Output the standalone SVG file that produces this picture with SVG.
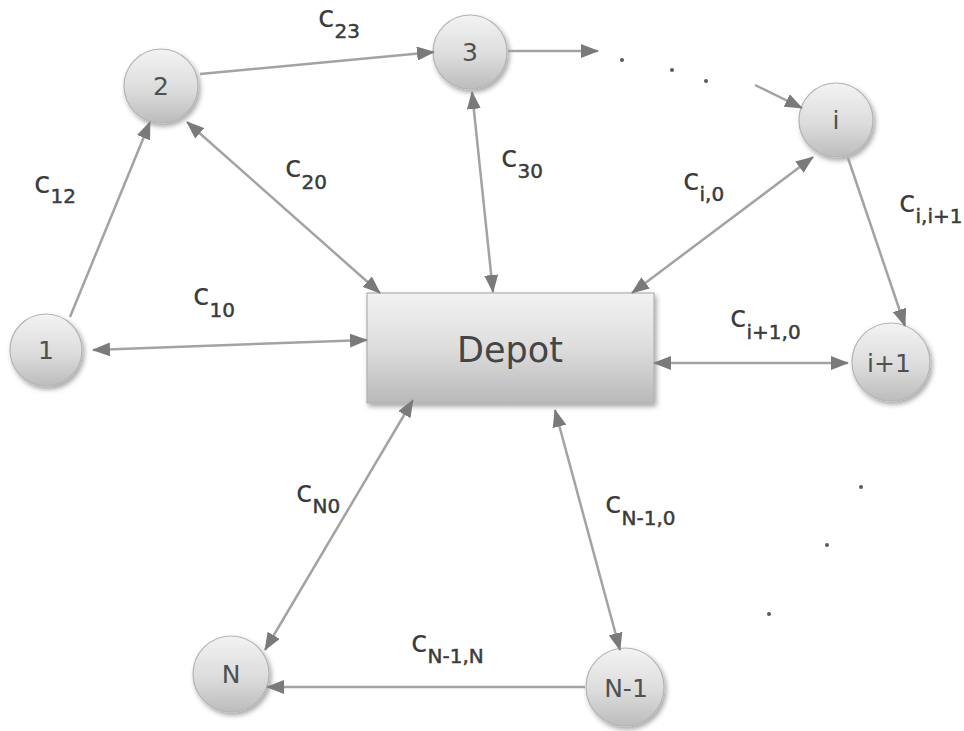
<svg xmlns="http://www.w3.org/2000/svg" width="964" height="731" viewBox="0 0 964 731">
<defs>
<linearGradient id="gNode" x1="0" y1="0" x2="0" y2="1">
<stop offset="0" stop-color="#f3f3f3"/>
<stop offset="0.55" stop-color="#dcdcdc"/>
<stop offset="1" stop-color="#bcbcbc"/>
</linearGradient>
<linearGradient id="gRect" x1="0" y1="0" x2="0" y2="1">
<stop offset="0" stop-color="#f2f2f2"/>
<stop offset="0.5" stop-color="#dddddd"/>
<stop offset="1" stop-color="#b9b9b9"/>
</linearGradient>
<filter id="sh" x="-20%" y="-20%" width="150%" height="150%">
<feDropShadow dx="2" dy="3" stdDeviation="2.5" flood-color="#000" flood-opacity="0.35"/>
</filter>
<marker id="arr" viewBox="0 0 18 14" refX="17" refY="7" markerWidth="18" markerHeight="14" markerUnits="userSpaceOnUse" orient="auto-start-reverse">
<path d="M0,0 L18,7 L0,14 z" fill="#7a7a7a"/>
</marker>
<style>
.node circle{fill:url(#gNode);stroke:#b4b4b4;stroke-width:1.2;filter:url(#sh)}
.node text{font-family:"DejaVu Sans",Verdana,sans-serif;font-size:25px;fill:#505050;text-anchor:middle}
.edge{fill:none;stroke:#a3a3a3;stroke-width:2.5}
.one{marker-end:url(#arr)}
.two{marker-start:url(#arr);marker-end:url(#arr)}
.lbl{font-family:"DejaVu Sans",Verdana,sans-serif;font-size:30px;fill:#3c3c3c}
.lbl tspan{font-size:20px;stroke:#3c3c3c;stroke-width:0.5}
.dot{fill:#5a5a5a}
</style>
</defs>
<rect width="964" height="731" fill="#ffffff"/>

<g id="depot" class="node">
<rect x="367" y="293" width="287" height="110" fill="url(#gRect)" stroke="#b0b0b0" stroke-width="1.2" filter="url(#sh)"/>
<text x="510" y="362" style="font-size:35px;fill:#454545">Depot</text>
</g>
<g id="n1" class="node"><circle cx="46" cy="350" r="36"/><text x="46" y="359">1</text></g>
<g id="n2" class="node"><circle cx="161" cy="86" r="37"/><text x="161" y="95">2</text></g>
<g id="n3" class="node"><circle cx="470" cy="52" r="37"/><text x="470" y="61">3</text></g>
<g id="ni" class="node"><circle cx="836" cy="120" r="37"/><text x="836" y="129">i</text></g>
<g id="ni1" class="node"><circle cx="891" cy="362" r="39"/><text x="889" y="372">i+1</text></g>
<g id="nN" class="node"><circle cx="231" cy="674" r="38"/><text x="231" y="683">N</text></g>
<g id="nN1" class="node"><circle cx="625" cy="687" r="39"/><text x="626" y="697">N-1</text></g>

<g id="connectors">
<path class="edge one" d="M200,74 L434,52"/>
<path class="edge one" d="M508,51 L598,51"/>
<path class="edge one" d="M755,85 L802,108"/>
<path class="edge one" d="M70,317 L150,122"/>
<path class="edge two" d="M187,122 L380,293"/>
<path class="edge two" d="M472,92 L493,292"/>
<path class="edge two" d="M813,157 L632,293"/>
<path class="edge one" d="M848,158 L905,326"/>
<path class="edge two" d="M654,363 L848,363"/>
<path class="edge two" d="M93,350 L367,340"/>
<path class="edge two" d="M265,650 L413,400"/>
<path class="edge two" d="M620,650 L555,410"/>
<path class="edge one" d="M585,687 L267,687"/>
</g>

<g id="dots">
<circle class="dot" cx="622" cy="60" r="2"/>
<circle class="dot" cx="672" cy="70" r="2"/>
<circle class="dot" cx="706" cy="81" r="2"/>
<circle class="dot" cx="861" cy="487" r="2"/>
<circle class="dot" cx="827" cy="545" r="2"/>
<circle class="dot" cx="769" cy="614" r="2"/>
</g>

<g id="labels">
<text class="lbl" x="318" y="27">c<tspan dy="11">23</tspan></text>
<text class="lbl" x="34" y="193">c<tspan dy="10">12</tspan></text>
<text class="lbl" x="285" y="177">c<tspan dy="12">20</tspan></text>
<text class="lbl" x="501" y="167">c<tspan dy="11">30</tspan></text>
<text class="lbl" x="683" y="190">c<tspan dy="11">i,0</tspan></text>
<text class="lbl" x="899" y="212">c<tspan dy="11">i,i+1</tspan></text>
<text class="lbl" x="193" y="305">c<tspan dy="12">10</tspan></text>
<text class="lbl" x="730" y="327">c<tspan dy="12">i+1,0</tspan></text>
<text class="lbl" x="296" y="502">c<tspan dy="11">N0</tspan></text>
<text class="lbl" x="605" y="513">c<tspan dy="12">N-1,0</tspan></text>
<text class="lbl" x="411" y="652">c<tspan dy="11">N-1,N</tspan></text>
</g>
</svg>
